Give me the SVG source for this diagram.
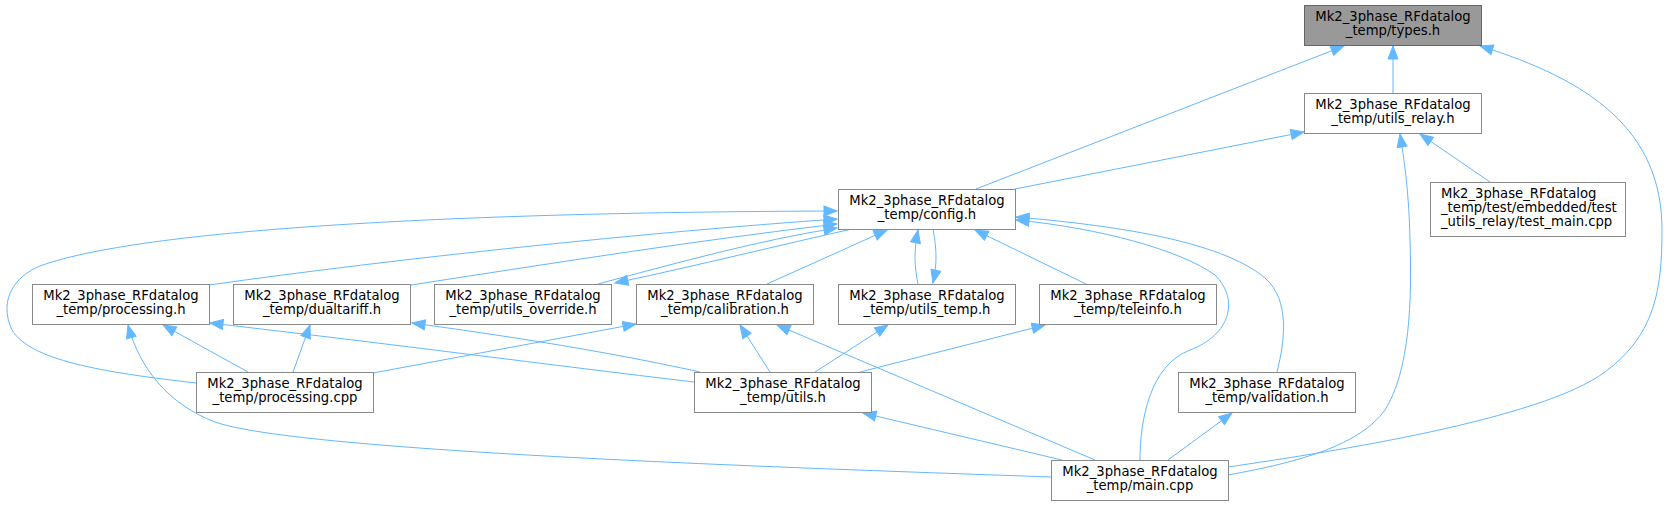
<svg xmlns="http://www.w3.org/2000/svg" width="1668" height="505" viewBox="0 0 1668 505">
<style>
.n rect{fill:#fff;stroke:#8a8a8a;stroke-width:1}
.n.hl rect{fill:#999;stroke:#666}
.n text{font-family:"DejaVu Sans","Liberation Sans",sans-serif;font-size:13.2px;fill:#000;text-anchor:middle}
.n text.l{text-anchor:start}
.e path{fill:none;stroke:#63b8ff;stroke-width:1;marker-end:url(#a)}
</style>
<defs>
<marker id="a" markerUnits="userSpaceOnUse" markerWidth="16" markerHeight="14" viewBox="-1 -1 16 14" refX="13" refY="5" orient="auto" overflow="visible">
<path d="M0,0 L13,5 L0,10 Z" fill="#63b8ff" stroke="#63b8ff" stroke-width="1"/>
</marker>
</defs>
<rect width="1668" height="505" fill="#fff"/>
<g id="edges" class="e">
<path d="M1393,93 L1393,46"/>
<path d="M976,189 L1344,46"/>
<path d="M1228,467 C1330,452 1540,420 1605,372 C1655,335 1662,290 1662,230 C1662,130 1590,80 1480,46"/>
<path d="M1015,189 L1304,132"/>
<path d="M1228,475 C1300,462 1360,445 1385,410 C1410,370 1412,300 1410,240 C1409,195 1405,165 1400,134"/>
<path d="M1490,182 L1420,134"/>
<path d="M209,285 C400,258 650,232 837,219"/>
<path d="M196,383 C100,372 30,360 12,330 C-2,300 15,276 40,266 C150,226 500,212 837,211"/>
<path d="M411,285 C560,262 700,240 837,224"/>
<path d="M598,284 C680,262 760,240 837,228"/>
<path d="M852,229 C780,245 700,265 615,283"/>
<path d="M767,284 L887,230"/>
<path d="M918,284 C914,265 914,250 918,230"/>
<path d="M933,229 C937,250 937,265 933,283"/>
<path d="M1086,284 L975,230"/>
<path d="M1277,372 C1285,340 1290,300 1265,278 C1220,240 1110,225 1016,217"/>
<path d="M1140,460 C1140,420 1150,365 1190,350 C1230,335 1240,300 1215,275 C1180,250 1100,228 1016,220"/>
<path d="M248,372 L163,325"/>
<path d="M694,382 C550,365 400,345 210,323"/>
<path d="M1051,477 C800,468 300,452 215,422 C170,405 140,370 128,325"/>
<path d="M293,372 L310,325"/>
<path d="M700,372 C600,350 500,335 412,323"/>
<path d="M373,373 L636,324"/>
<path d="M770,372 L740,325"/>
<path d="M1095,460 L777,325"/>
<path d="M815,372 L888,325"/>
<path d="M860,372 L1045,325"/>
<path d="M1062,460 L863,413"/>
<path d="M1168,460 L1232,413"/>
</g>
<g id="types" class="n hl"><rect x="1304.5" y="5.5" width="177" height="40"/><text x="1393" y="21">Mk2_3phase_RFdatalog</text><text x="1393" y="35">_temp/types.h</text></g>
<g id="utils_relay" class="n"><rect x="1304.5" y="93.5" width="177" height="40"/><text x="1393" y="109">Mk2_3phase_RFdatalog</text><text x="1393" y="123">_temp/utils_relay.h</text></g>
<g id="test_main" class="n"><rect x="1430.5" y="182.5" width="195" height="54"/><text class="l" x="1441" y="198">Mk2_3phase_RFdatalog</text><text class="l" x="1441" y="212">_temp/test/embedded/test</text><text class="l" x="1441" y="226">_utils_relay/test_main.cpp</text></g>
<g id="config" class="n"><rect x="838.5" y="189.5" width="177" height="40"/><text x="927" y="205">Mk2_3phase_RFdatalog</text><text x="927" y="219">_temp/config.h</text></g>
<g id="processing_h" class="n"><rect x="32.5" y="284.5" width="177" height="40"/><text x="121" y="300">Mk2_3phase_RFdatalog</text><text x="121" y="314">_temp/processing.h</text></g>
<g id="dualtariff" class="n"><rect x="233.5" y="284.5" width="177" height="40"/><text x="322" y="300">Mk2_3phase_RFdatalog</text><text x="322" y="314">_temp/dualtariff.h</text></g>
<g id="utils_override" class="n"><rect x="434.5" y="284.5" width="177" height="40"/><text x="523" y="300">Mk2_3phase_RFdatalog</text><text x="523" y="314">_temp/utils_override.h</text></g>
<g id="calibration" class="n"><rect x="636.5" y="284.5" width="177" height="40"/><text x="725" y="300">Mk2_3phase_RFdatalog</text><text x="725" y="314">_temp/calibration.h</text></g>
<g id="utils_temp" class="n"><rect x="838.5" y="284.5" width="177" height="40"/><text x="927" y="300">Mk2_3phase_RFdatalog</text><text x="927" y="314">_temp/utils_temp.h</text></g>
<g id="teleinfo" class="n"><rect x="1039.5" y="284.5" width="177" height="40"/><text x="1128" y="300">Mk2_3phase_RFdatalog</text><text x="1128" y="314">_temp/teleinfo.h</text></g>
<g id="processing_cpp" class="n"><rect x="196.5" y="372.5" width="177" height="40"/><text x="285" y="388">Mk2_3phase_RFdatalog</text><text x="285" y="402">_temp/processing.cpp</text></g>
<g id="utils_h" class="n"><rect x="694.5" y="372.5" width="177" height="40"/><text x="783" y="388">Mk2_3phase_RFdatalog</text><text x="783" y="402">_temp/utils.h</text></g>
<g id="validation" class="n"><rect x="1178.5" y="372.5" width="177" height="40"/><text x="1267" y="388">Mk2_3phase_RFdatalog</text><text x="1267" y="402">_temp/validation.h</text></g>
<g id="main_cpp" class="n"><rect x="1051.5" y="460.5" width="177" height="40"/><text x="1140" y="476">Mk2_3phase_RFdatalog</text><text x="1140" y="490">_temp/main.cpp</text></g>
</svg>
